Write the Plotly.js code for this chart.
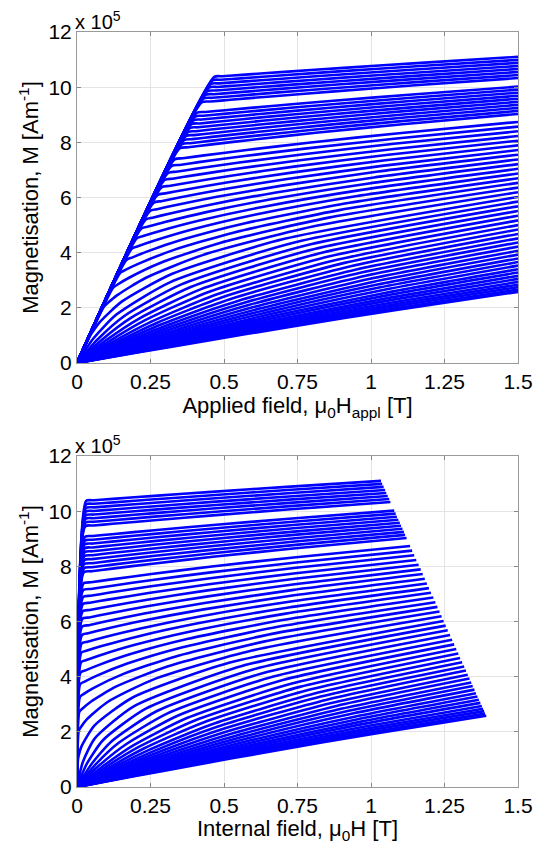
<!DOCTYPE html>
<html>
<head>
<meta charset="utf-8">
<script src="https://cdn.plot.ly/plotly-3.0.1.min.js"></script>
<style>html,body{margin:0;padding:0;background:#fff;}#chart{width:556px;height:844px;}</style>
</head>
<body>
<div id="chart"></div>
<script>
// Magnetisation curves, M in units of 1e5 A/m, one row per measured curve (low T -> high T)
const magnetisation = [
[0,10.373,10.395,10.446,10.555,10.700,10.882,11.10],
[0,10.245,10.267,10.320,10.431,10.580,10.767,10.99],
[0,10.114,10.137,10.191,10.306,10.459,10.650,10.88],
[0,9.984,10.008,10.063,10.181,10.338,10.534,10.77],
[0,9.853,9.877,9.934,10.055,10.216,10.418,10.66],
[0,9.720,9.745,9.803,9.928,10.094,10.301,10.55],
[0,9.588,9.614,9.673,9.801,9.971,10.184,10.44],
[0,9.454,9.480,9.542,9.673,9.848,10.067,10.33],
[0,9.071,9.100,9.166,9.308,9.498,9.735,10.02],
[0,8.934,8.963,9.032,9.178,9.373,9.617,9.91],
[0,8.795,8.825,8.896,9.046,9.247,9.499,9.80],
[0,8.654,8.685,8.758,8.913,9.120,9.379,9.69],
[0,8.513,8.545,8.620,8.780,8.993,9.260,9.58],
[0,8.371,8.404,8.481,8.646,8.866,9.140,9.47],
[0,8.227,8.261,8.340,8.510,8.737,9.020,9.36],
[0,8.080,8.115,8.197,8.373,8.607,8.899,9.25],
[0,7.932,7.968,8.053,8.234,8.476,8.778,9.14],
[0,7.784,7.821,7.909,8.096,8.345,8.656,9.03],
[0,7.381,7.422,7.517,7.721,7.993,8.332,8.74],
[0,7.138,7.181,7.281,7.496,7.782,8.140,8.57],
[0,6.889,6.934,7.040,7.267,7.569,7.947,8.40],
[0,6.633,6.681,6.793,7.032,7.352,7.751,8.23],
[0,6.368,6.419,6.537,6.791,7.129,7.552,8.06],
[0,6.095,6.149,6.275,6.544,6.903,7.352,7.89],
[0,5.810,5.867,6.001,6.288,6.670,7.147,7.72],
[0,5.515,5.576,5.719,6.024,6.431,6.940,7.55],
[0,5.204,5.269,5.422,5.748,6.183,6.727,7.38],
[0,4.876,4.946,5.109,5.460,5.926,6.510,7.21],
[0,4.526,4.601,4.777,5.155,5.657,6.286,7.04],
[0,4.147,4.229,4.419,4.828,5.372,6.053,6.87],
[0,3.732,3.821,4.029,4.474,5.068,5.810,6.70],
[0,3.267,3.365,3.593,4.083,4.735,5.551,6.53],
[0,2.728,2.837,3.091,3.636,4.362,5.270,6.36],
[0,2.046,2.170,2.460,3.082,3.911,4.947,6.19],
[0,0.958,1.110,1.464,2.224,3.236,4.501,6.02],
[0,0.878,1.755,2.925,4.388,5.85],
[0,0.852,1.704,2.840,4.260,5.68],
[0,0.827,1.653,2.755,4.133,5.51],
[0,0.801,1.602,2.670,4.005,5.34],
[0,0.776,1.551,2.585,3.878,5.17],
[0,0.750,1.500,2.500,3.750,5.00],
[0,0.726,1.452,2.420,3.630,4.84],
[0,0.702,1.404,2.340,3.510,4.68],
[0,0.678,1.356,2.260,3.390,4.52],
[0,0.656,1.311,2.185,3.278,4.37],
[0,0.633,1.266,2.110,3.165,4.22],
[0,0.611,1.221,2.035,3.053,4.07],
[0,0.590,1.179,1.965,2.948,3.93],
[0,0.569,1.137,1.895,2.843,3.79],
[0,0.549,1.098,1.830,2.745,3.66],
[0,0.530,1.059,1.765,2.648,3.53],
[0,0.510,1.020,1.700,2.550,3.40],
[0,0.492,0.984,1.640,2.460,3.28],
[0,0.474,0.948,1.580,2.370,3.16],
[0,0.458,0.915,1.525,2.288,3.05],
[0,0.441,0.882,1.470,2.205,2.94],
[0,0.426,0.852,1.420,2.130,2.84],
[0,0.413,0.825,1.375,2.063,2.75],
[0,0.399,0.798,1.330,1.995,2.66],
[0,0.387,0.774,1.290,1.935,2.58]
];

// Applied field mu0*H_appl [T] for each point above
const fieldApplied = [
[0,0.467,0.495,0.561,0.706,0.907,1.170,1.5],
[0,0.461,0.489,0.557,0.702,0.903,1.168,1.5],
[0,0.455,0.483,0.550,0.697,0.899,1.164,1.5],
[0,0.449,0.478,0.545,0.692,0.895,1.162,1.5],
[0,0.443,0.472,0.539,0.687,0.891,1.160,1.5],
[0,0.437,0.466,0.533,0.681,0.886,1.156,1.5],
[0,0.431,0.460,0.527,0.675,0.881,1.153,1.5],
[0,0.425,0.454,0.522,0.669,0.876,1.150,1.5],
[0,0.408,0.437,0.504,0.653,0.862,1.141,1.5],
[0,0.402,0.430,0.499,0.648,0.858,1.138,1.5],
[0,0.396,0.424,0.492,0.641,0.852,1.134,1.5],
[0,0.389,0.418,0.485,0.635,0.846,1.131,1.5],
[0,0.383,0.411,0.479,0.630,0.841,1.127,1.5],
[0,0.377,0.405,0.472,0.623,0.837,1.123,1.5],
[0,0.370,0.398,0.465,0.616,0.830,1.119,1.5],
[0,0.364,0.392,0.459,0.610,0.825,1.115,1.5],
[0,0.357,0.385,0.452,0.603,0.818,1.112,1.5],
[0,0.350,0.378,0.445,0.597,0.812,1.107,1.5],
[0,0.332,0.360,0.426,0.577,0.795,1.095,1.5],
[0,0.321,0.349,0.414,0.564,0.782,1.087,1.5],
[0,0.310,0.337,0.403,0.552,0.771,1.078,1.5],
[0,0.298,0.325,0.390,0.538,0.758,1.070,1.5],
[0,0.287,0.313,0.377,0.524,0.744,1.059,1.5],
[0,0.274,0.300,0.363,0.509,0.730,1.049,1.5],
[0,0.261,0.286,0.348,0.493,0.714,1.037,1.5],
[0,0.248,0.272,0.333,0.476,0.697,1.024,1.5],
[0,0.234,0.257,0.317,0.457,0.677,1.010,1.5],
[0,0.219,0.242,0.299,0.436,0.655,0.993,1.5],
[0,0.204,0.225,0.279,0.413,0.631,0.974,1.5],
[0,0.187,0.207,0.259,0.388,0.604,0.953,1.5],
[0,0.168,0.187,0.235,0.359,0.572,0.927,1.5],
[0,0.147,0.163,0.208,0.325,0.535,0.896,1.5],
[0,0.123,0.137,0.177,0.285,0.489,0.856,1.5],
[0,0.092,0.104,0.137,0.233,0.427,0.802,1.5],
[0,0.043,0.052,0.076,0.152,0.324,0.706,1.5],
[0,0.055,0.134,0.316,0.746,1.5],
[0,0.070,0.161,0.353,0.778,1.5],
[0,0.083,0.186,0.387,0.808,1.5],
[0,0.096,0.210,0.420,0.836,1.5],
[0,0.108,0.232,0.450,0.863,1.5],
[0,0.119,0.253,0.479,0.888,1.5],
[0,0.129,0.271,0.504,0.910,1.5],
[0,0.138,0.288,0.528,0.931,1.5],
[0,0.147,0.304,0.550,0.950,1.5],
[0,0.154,0.318,0.569,0.967,1.5],
[0,0.161,0.331,0.587,0.982,1.5],
[0,0.168,0.344,0.604,0.997,1.5],
[0,0.174,0.354,0.618,1.010,1.5],
[0,0.179,0.364,0.632,1.022,1.5],
[0,0.184,0.373,0.644,1.032,1.5],
[0,0.188,0.381,0.655,1.042,1.5],
[0,0.192,0.388,0.665,1.051,1.5],
[0,0.195,0.394,0.673,1.058,1.5],
[0,0.198,0.400,0.682,1.065,1.5],
[0,0.201,0.405,0.688,1.071,1.5],
[0,0.203,0.410,0.695,1.077,1.5],
[0,0.206,0.414,0.700,1.081,1.5],
[0,0.207,0.417,0.705,1.086,1.5],
[0,0.209,0.420,0.709,1.089,1.5],
[0,0.211,0.423,0.713,1.092,1.5]
];

// Internal field mu0*H [T] for each point above
const fieldInternal = [
[0,0.031,0.058,0.122,0.263,0.458,0.713,1.034],
[0,0.031,0.058,0.124,0.264,0.459,0.716,1.038],
[0,0.030,0.058,0.122,0.264,0.460,0.717,1.043],
[0,0.030,0.057,0.123,0.265,0.461,0.720,1.048],
[0,0.030,0.057,0.122,0.264,0.462,0.722,1.052],
[0,0.029,0.056,0.122,0.264,0.462,0.723,1.057],
[0,0.029,0.056,0.121,0.264,0.462,0.725,1.062],
[0,0.028,0.056,0.121,0.263,0.462,0.727,1.066],
[0,0.027,0.054,0.119,0.263,0.464,0.732,1.079],
[0,0.027,0.054,0.119,0.263,0.464,0.734,1.084],
[0,0.026,0.054,0.118,0.261,0.463,0.735,1.088],
[0,0.026,0.053,0.117,0.261,0.463,0.737,1.093],
[0,0.026,0.052,0.117,0.261,0.463,0.738,1.098],
[0,0.025,0.052,0.116,0.260,0.465,0.739,1.102],
[0,0.025,0.051,0.115,0.259,0.463,0.741,1.107],
[0,0.024,0.051,0.115,0.258,0.463,0.741,1.112],
[0,0.024,0.050,0.114,0.257,0.462,0.744,1.116],
[0,0.023,0.050,0.113,0.257,0.462,0.744,1.121],
[0,0.022,0.048,0.111,0.253,0.459,0.745,1.133],
[0,0.021,0.047,0.109,0.250,0.455,0.745,1.140],
[0,0.021,0.046,0.107,0.246,0.453,0.745,1.147],
[0,0.020,0.044,0.105,0.243,0.449,0.744,1.154],
[0,0.019,0.043,0.102,0.239,0.444,0.742,1.162],
[0,0.018,0.042,0.100,0.234,0.440,0.740,1.169],
[0,0.017,0.040,0.096,0.229,0.434,0.737,1.176],
[0,0.017,0.038,0.093,0.223,0.426,0.733,1.183],
[0,0.016,0.036,0.089,0.216,0.417,0.727,1.190],
[0,0.015,0.034,0.084,0.207,0.407,0.720,1.197],
[0,0.014,0.032,0.079,0.197,0.394,0.710,1.204],
[0,0.012,0.029,0.073,0.185,0.378,0.699,1.212],
[0,0.011,0.026,0.066,0.171,0.359,0.683,1.219],
[0,0.010,0.022,0.057,0.154,0.336,0.663,1.226],
[0,0.008,0.018,0.047,0.132,0.305,0.635,1.233],
[0,0.006,0.013,0.034,0.104,0.263,0.595,1.240],
[0,0.003,0.005,0.015,0.059,0.188,0.517,1.247],
[0,0.019,0.060,0.193,0.561,1.254],
[0,0.034,0.089,0.234,0.599,1.261],
[0,0.049,0.117,0.272,0.634,1.269],
[0,0.062,0.142,0.308,0.668,1.276],
[0,0.075,0.167,0.342,0.700,1.283],
[0,0.088,0.190,0.374,0.731,1.290],
[0,0.098,0.210,0.403,0.758,1.297],
[0,0.109,0.229,0.430,0.783,1.303],
[0,0.118,0.247,0.455,0.808,1.310],
[0,0.127,0.263,0.477,0.829,1.317],
[0,0.135,0.278,0.498,0.850,1.323],
[0,0.142,0.292,0.518,0.869,1.329],
[0,0.149,0.305,0.536,0.886,1.335],
[0,0.155,0.316,0.552,0.902,1.341],
[0,0.160,0.327,0.567,0.917,1.346],
[0,0.166,0.336,0.581,0.930,1.352],
[0,0.170,0.345,0.594,0.944,1.357],
[0,0.174,0.353,0.605,0.955,1.362],
[0,0.178,0.360,0.615,0.966,1.367],
[0,0.182,0.367,0.624,0.975,1.372],
[0,0.185,0.373,0.633,0.984,1.377],
[0,0.188,0.378,0.641,0.992,1.381],
[0,0.190,0.383,0.647,0.999,1.385],
[0,0.192,0.387,0.653,1.006,1.388],
[0,0.194,0.390,0.659,1.011,1.392]
];

const xTickVals = [0, 0.25, 0.5, 0.75, 1, 1.25, 1.5];
const xTickText = ['0', '0.25', '0.5', '0.75', '1', '1.25', '1.5'];
const yTickVals = [0, 2, 4, 6, 8, 10, 12];
const yTickText = ['0', '2', '4', '6', '8', '10', '12'];

const FONT = 'Liberation Sans, Arial, Helvetica, sans-serif';
const lineStyle = {color: 'rgb(0,0,255)', width: 2.6, shape: 'spline', smoothing: 0.6};

const traces = [];
magnetisation.forEach((m, i) => {
  traces.push({x: fieldApplied[i], y: m, xaxis: 'x', yaxis: 'y', type: 'scatter', mode: 'lines',
               line: lineStyle, hoverinfo: 'skip', showlegend: false});
});
magnetisation.forEach((m, i) => {
  traces.push({x: fieldInternal[i], y: m, xaxis: 'x2', yaxis: 'y2', type: 'scatter', mode: 'lines',
               line: lineStyle, hoverinfo: 'skip', showlegend: false});
});

function xAxis(title, anchor) {
  return {
    anchor: anchor, domain: [0, 1], range: [0, 1.5], tickvals: xTickVals, ticktext: xTickText,
    ticks: 'inside', ticklen: 4, tickcolor: '#888', mirror: 'ticks', showline: true,
    linecolor: '#9a9a9a', linewidth: 1, showgrid: true, gridcolor: '#e4e4e4', gridwidth: 1,
    zeroline: false, tickfont: {family: FONT, size: 21, color: '#000'},
    title: {text: title, font: {family: FONT, size: 22, color: '#000'}, standoff: 0},
    automargin: false, fixedrange: true
  };
}
function yAxis(domain, anchor) {
  return {
    anchor: anchor, domain: domain, range: [0, 12], tickvals: yTickVals, ticktext: yTickText,
    ticks: 'inside', ticklen: 4, tickcolor: '#888', mirror: 'ticks', showline: true,
    linecolor: '#9a9a9a', linewidth: 1, showgrid: true, gridcolor: '#e4e4e4', gridwidth: 1,
    zeroline: false, tickfont: {family: FONT, size: 21, color: '#000'},
    title: {text: 'Magnetisation, M [Am<sup>-1</sup>]', font: {family: FONT, size: 22, color: '#000'}, standoff: 3},
    automargin: false, fixedrange: true
  };
}

const layout = {
  width: 556, height: 844,
  margin: {l: 77, r: 38, t: 32, b: 57},
  paper_bgcolor: '#fff', plot_bgcolor: '#fff',
  showlegend: false,
  xaxis: xAxis('Applied field, μ<sub>0</sub>H<sub>appl</sub> [T]', 'y'),
  yaxis: yAxis([0.5616, 1], 'x'),
  xaxis2: xAxis('Internal field, μ<sub>0</sub>H [T]', 'y2'),
  yaxis2: yAxis([0, 0.4384], 'x2'),
  annotations: [
    {xref: 'paper', yref: 'paper', x: 0, y: 1, xanchor: 'left', yanchor: 'bottom', xshift: -4, yshift: -3,
     text: 'x 10<sup>5</sup>', showarrow: false, font: {family: FONT, size: 20, color: '#000'}},
    {xref: 'paper', yref: 'paper', x: 0, y: 0.4384, xanchor: 'left', yanchor: 'bottom', xshift: -4, yshift: -3,
     text: 'x 10<sup>5</sup>', showarrow: false, font: {family: FONT, size: 20, color: '#000'}}
  ]
};

Plotly.newPlot('chart', traces, layout, {staticPlot: true, displayModeBar: false});
</script>
</body>
</html>
